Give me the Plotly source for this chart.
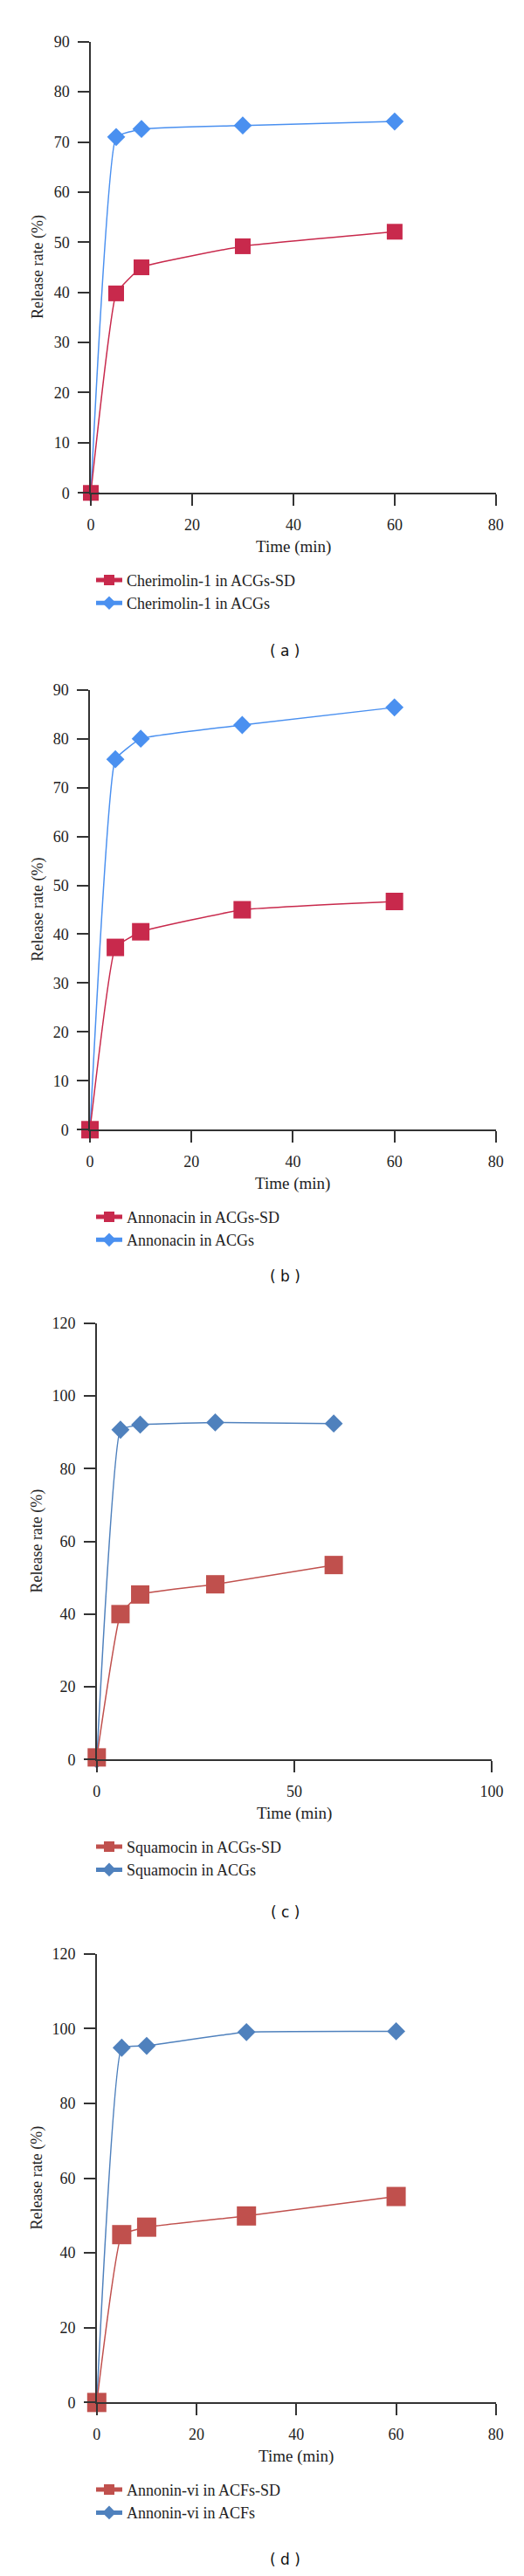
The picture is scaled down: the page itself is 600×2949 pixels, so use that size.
import plotly.graph_objects as go

W, H = 600, 2949

# time points (min)
time_ab = [0, 5, 10, 30, 60]
time_c = [0, 6, 11, 30, 60]
time_d = [0, 5, 10, 30, 60]

# panel (a)
cherimolin_sd = [0, 39.8, 45.0, 49.2, 52.1]
cherimolin = [0, 71.0, 72.6, 73.3, 74.1]
# panel (b)
annonacin_sd = [0, 37.3, 40.5, 45.0, 46.7]
annonacin = [0, 75.8, 80.0, 82.8, 86.4]
# panel (c)
squamocin_sd = [0.6, 40.0, 45.4, 48.2, 53.5]
squamocin = [0, 90.7, 92.1, 92.7, 92.4]
# panel (d)
annonin_sd = [0, 44.9, 46.9, 49.9, 55.1]
annonin = [0, 94.9, 95.4, 99.1, 99.3]

panels = [
    dict(tag="( a )", x=time_ab, sd=cherimolin_sd, pure=cherimolin,
         names=["Cherimolin-1 in ACGs-SD", "Cherimolin-1 in ACGs"],
         red="#C8294C", blue="#4A90F0", xr=80, xd=20, yr=90, yd=10,
         px=(94, 573), py=(30, 550), sq=18, lab=732),
    dict(tag="( b )", x=time_ab, sd=annonacin_sd, pure=annonacin,
         names=["Annonacin in ACGs-SD", "Annonacin in ACGs"],
         red="#C8294C", blue="#4A90F0", xr=80, xd=20, yr=90, yd=10,
         px=(93, 573), py=(777, 1284), sq=20, lab=1453),
    dict(tag="( c )", x=time_c, sd=squamocin_sd, pure=squamocin,
         names=["Squamocin in ACGs-SD", "Squamocin in ACGs"],
         red="#C0504D", blue="#4F81BD", xr=100, xd=50, yr=120, yd=20,
         px=(101, 568), py=(1507, 2010), sq=21, lab=2186),
    dict(tag="( d )", x=time_d, sd=annonin_sd, pure=annonin,
         names=["Annonin-vi in ACFs-SD", "Annonin-vi in ACFs"],
         red="#C0504D", blue="#4F81BD", xr=80, xd=20, yr=120, yd=20,
         px=(101, 573), py=(2234, 2751), sq=22, lab=2932),
]

serif = "Liberation Serif"
fig = go.Figure()
layout = {}
annotations = []

for i, p in enumerate(panels):
    n = "" if i == 0 else str(i + 1)
    xa, ya, lg = "x" + n, "y" + n, "legend" + n
    # blue first so the red square at t=0 sits on top
    for name, ys, col, sym, size, rank in [
        (p["names"][1], p["pure"], p["blue"], "diamond", 16, 2),
        (p["names"][0], p["sd"], p["red"], "square", p["sq"], 1),
    ]:
        fig.add_trace(go.Scatter(
            x=p["x"], y=ys, name=name, mode="lines+markers",
            line=dict(color=col, width=1.5, shape="spline", smoothing=0.3),
            marker=dict(symbol=sym, size=size, color=col),
            xaxis=xa, yaxis=ya, legend=lg, legendrank=rank, cliponaxis=False,
        ))
    x0, x1 = p["px"][0] / W, p["px"][1] / W
    y0, y1 = 1 - p["py"][1] / H, 1 - p["py"][0] / H
    ax = dict(showgrid=False, zeroline=False, showline=True, linecolor="#333",
              linewidth=1.5, ticks="outside", ticklen=13, tickwidth=1.5,
              tickcolor="#333", ticklabelstandoff=6,
              tickfont=dict(family=serif, size=18, color="#222"))
    layout["xaxis" + n] = dict(ax, domain=[x0, x1], range=[0, p["xr"]],
                               dtick=p["xd"], anchor=ya)
    layout["yaxis" + n] = dict(ax, domain=[y0, y1], range=[0, p["yr"]],
                               dtick=p["yd"], anchor=xa)
    layout[lg] = dict(x=95 / W, y=1 - (p["py"][1] + 82) / H, xanchor="left",
                      yanchor="top", bgcolor="rgba(0,0,0,0)", tracegroupgap=0,
                      font=dict(family=serif, size=18, color="#222"),
                      itemwidth=30, itemsizing="constant")
    annotations.append(dict(text="Time (min)", x=(x0 + x1) / 2,
                            y=1 - (p["py"][1] + 62) / H, xref="paper",
                            yref="paper", showarrow=False, yanchor="middle",
                            font=dict(family=serif, size=19, color="#222")))
    annotations.append(dict(text="Release rate (%)", x=31 / W,
                            y=(y0 + y1) / 2, xref="paper", yref="paper",
                            xanchor="center", yanchor="middle",
                            showarrow=False, textangle=-90,
                            font=dict(family=serif, size=18, color="#222")))
    annotations.append(dict(text=p["tag"], x=324 / W, y=1 - p["lab"] / H,
                            xref="paper", yref="paper", showarrow=False,
                            xanchor="center", yanchor="middle",
                            font=dict(family="DejaVu Sans", size=17, color="#111")))

fig.update_layout(width=W, height=H, margin=dict(l=0, r=0, t=0, b=0),
                  plot_bgcolor="white", paper_bgcolor="white",
                  annotations=annotations, **layout)
fig.write_html("out.html")
